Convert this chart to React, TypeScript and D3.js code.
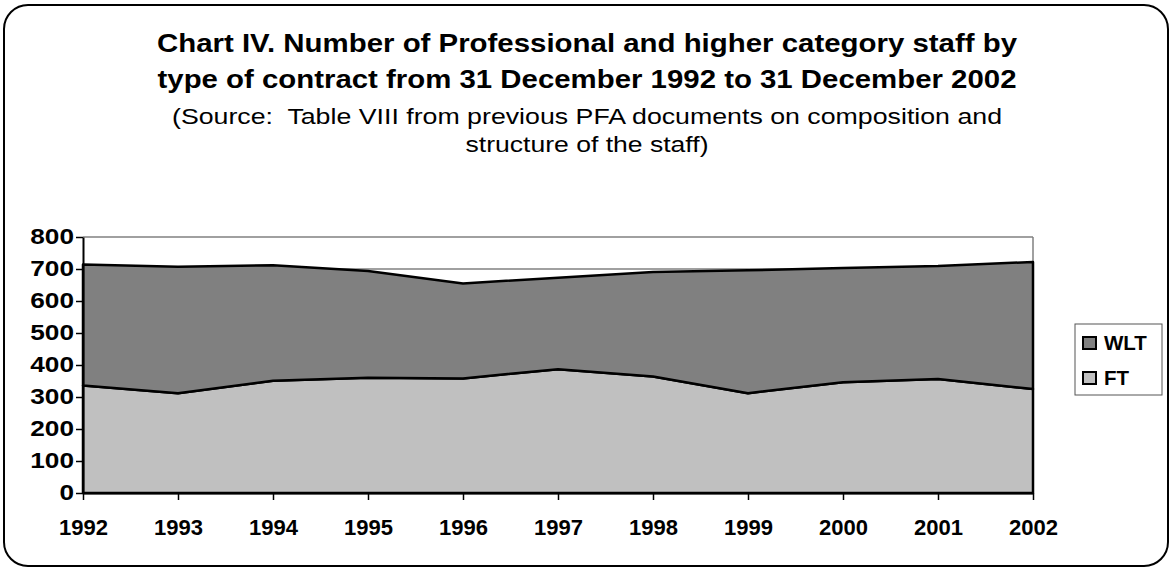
import React, { useEffect, useRef } from 'react';
import * as d3 from 'd3';

// years on the x axis
const years = ['1992', '1993', '1994', '1995', '1996', '1997', '1998', '1999', '2000', '2001', '2002'];
// fixed-term staff
const ftValues = [336, 312, 351, 360, 358, 387, 364, 312, 346, 356, 325];
// staff with longer-term appointments (stacked above FT)
const wltValues = [378, 395, 361, 334, 297, 286, 327, 384, 357, 353, 397];
const yTicks = [0, 100, 200, 300, 400, 500, 600, 700, 800];

const titleLines = [
  'Chart IV. Number of Professional and higher category staff by',
  'type of contract from 31 December 1992 to 31 December 2002',
];
const subtitleLines = [
  '(Source:  Table VIII from previous PFA documents on composition and',
  'structure of the staff)',
];

const W = 1170;
const H = 568;
const font = 'Arial, "Liberation Sans", sans-serif';

const App: React.FC = () => {
  const svgRef = useRef<SVGSVGElement>(null);
  const plot = { left: 83, right: 1033, top: 237, bottom: 493 };

  useEffect(() => {
    const svg = d3.select(svgRef.current);
    svg.selectAll('*').remove();

    // outer rounded frame
    svg
      .append('rect')
      .attr('x', 4)
      .attr('y', 5)
      .attr('width', 1164)
      .attr('height', 561)
      .attr('rx', 24)
      .attr('fill', 'white')
      .attr('stroke', 'black')
      .attr('stroke-width', 2);

    // the source picture is stretched sideways, so widths are fixed per line
    const titleWidths = [860, 859];
    const title = svg
      .append('text')
      .attr('font-family', font)
      .attr('font-weight', 'bold')
      .attr('font-size', 26.5)
      .attr('text-anchor', 'middle');
    titleLines.forEach((t, i) => {
      title
        .append('tspan')
        .attr('x', 587)
        .attr('y', 52 + i * 36)
        .attr('textLength', titleWidths[i])
        .attr('lengthAdjust', 'spacingAndGlyphs')
        .text(t);
    });

    const subWidths = [830, 243];
    subtitleLines.forEach((t, i) => {
      svg
        .append('text')
        .attr('font-family', font)
        .attr('font-size', 22.5)
        .attr('text-anchor', 'middle')
        .attr('xml:space', 'preserve')
        .style('white-space', 'pre')
        .attr('x', 587)
        .attr('y', 124 + i * 28)
        .attr('textLength', subWidths[i])
        .attr('lengthAdjust', 'spacingAndGlyphs')
        .text(t);
    });

    const x = d3.scalePoint<string>().domain(years).range([plot.left, plot.right]);
    const y = d3.scaleLinear().domain([0, 800]).range([plot.bottom, plot.top]);

    // plot area border + gridlines
    svg
      .append('g')
      .selectAll('line')
      .data(yTicks.slice(1))
      .join('line')
      .attr('x1', plot.left)
      .attr('x2', plot.right)
      .attr('y1', (d) => y(d))
      .attr('y2', (d) => y(d))
      .attr('stroke', '#808080')
      .attr('stroke-width', 1.5);
    svg
      .append('line')
      .attr('x1', plot.right)
      .attr('x2', plot.right)
      .attr('y1', plot.top)
      .attr('y2', plot.bottom)
      .attr('stroke', '#808080')
      .attr('stroke-width', 1.5);

    const rows = years.map((yr, i) => ({ year: yr, FT: ftValues[i], WLT: wltValues[i] }));
    const stack = d3.stack<{ year: string; FT: number; WLT: number }>().keys(['FT', 'WLT']);
    const series = stack(rows);
    const fills: Record<string, string> = { FT: '#c0c0c0', WLT: '#808080' };

    const area = d3
      .area<d3.SeriesPoint<{ year: string; FT: number; WLT: number }>>()
      .x((d) => x(d.data.year) as number)
      .y0((d) => y(d[0]))
      .y1((d) => y(d[1]));

    svg
      .append('g')
      .selectAll('path')
      .data(series)
      .join('path')
      .attr('d', (s) => area(s) as string)
      .attr('fill', (s) => fills[s.key])
      .attr('stroke', 'black')
      .attr('stroke-width', 2.5)
      .attr('stroke-linejoin', 'round');

    // axes
    const yAxis = d3
      .axisLeft(y)
      .tickValues(yTicks)
      .tickSize(7)
      .tickPadding(2)
      .tickSizeOuter(0);
    const gy = svg.append('g').attr('transform', `translate(${plot.left},0)`).call(yAxis);
    gy.select('.domain').attr('stroke', 'black').attr('stroke-width', 2);
    gy.selectAll('.tick line').attr('stroke', 'black').attr('stroke-width', 1.5);
    const ySx = 1.22;
    gy.selectAll('text')
      .attr('font-family', font)
      .attr('font-weight', 'bold')
      .attr('font-size', 21.5)
      .attr('fill', 'black')
      .attr('x', -9 / ySx)
      .attr('transform', `scale(${ySx},1)`);

    const xAxis = d3.axisBottom(x).tickSize(7).tickPadding(19).tickSizeOuter(0);
    const gx = svg.append('g').attr('transform', `translate(0,${plot.bottom})`).call(xAxis);
    gx.select('.domain').attr('stroke', 'black').attr('stroke-width', 2);
    gx.selectAll('.tick line').attr('stroke', 'black').attr('stroke-width', 1.5);
    gx.selectAll('text')
      .attr('font-family', font)
      .attr('font-weight', 'bold')
      .attr('font-size', 22)
      .attr('fill', 'black')
      .attr('textLength', 49)
      .attr('lengthAdjust', 'spacingAndGlyphs');

    // legend
    const lg = svg.append('g');
    lg.append('rect')
      .attr('x', 1075)
      .attr('y', 324)
      .attr('width', 87)
      .attr('height', 71)
      .attr('fill', 'white')
      .attr('stroke', '#555')
      .attr('stroke-width', 1);
    const legendKeys = ['WLT', 'FT'];
    legendKeys.forEach((k, i) => {
      lg.append('rect')
        .attr('x', 1083)
        .attr('y', 337 + i * 35)
        .attr('width', 13)
        .attr('height', 12)
        .attr('fill', fills[k])
        .attr('stroke', 'black')
        .attr('stroke-width', 2);
      lg.append('text')
        .attr('x', 1104)
        .attr('y', 350 + i * 35)
        .attr('font-family', font)
        .attr('font-weight', 'bold')
        .attr('font-size', 20.5)
        .text(k);
    });
  }, []);

  return (
    <svg
      ref={svgRef}
      width={W}
      height={H}
      style={{ position: 'absolute', left: 0, top: 0, display: 'block' }}
    />
  );
};

export default App;
